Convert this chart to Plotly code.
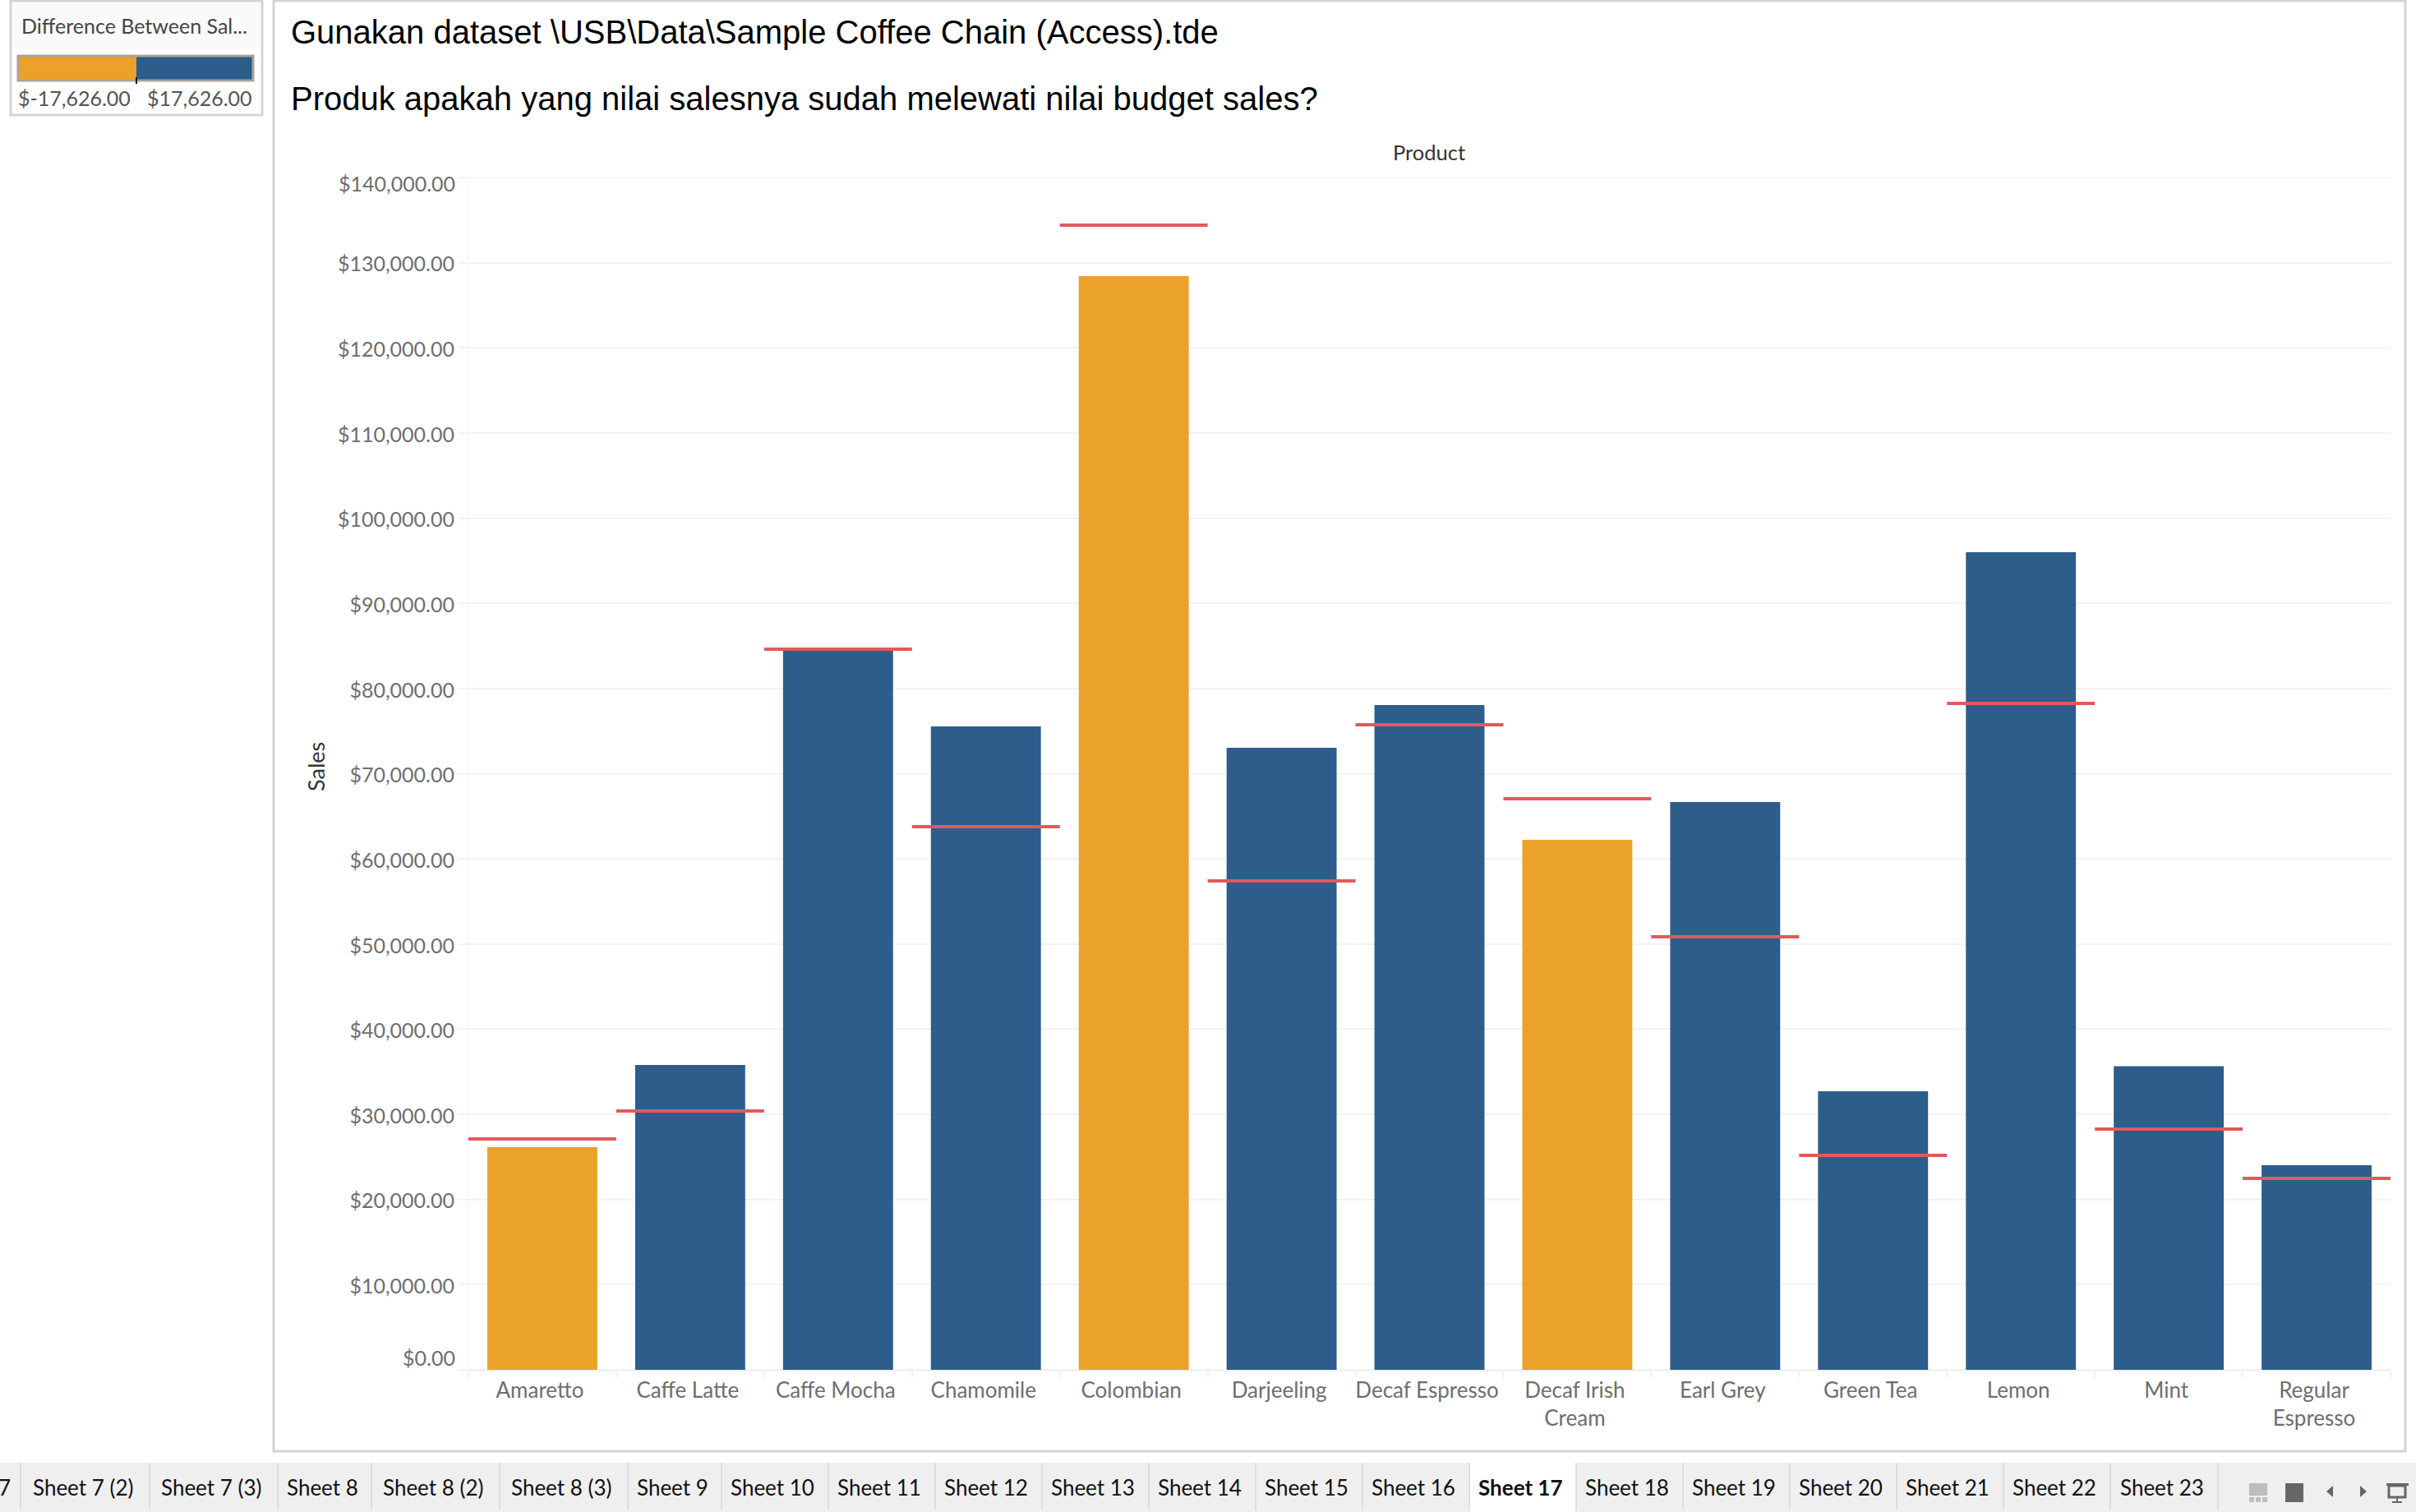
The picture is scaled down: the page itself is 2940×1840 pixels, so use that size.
import plotly.graph_objects as go

W = 2940
H = 1840

products = ["Amaretto", "Caffe Latte", "Caffe Mocha", "Chamomile", "Colombian", "Darjeeling",
            "Decaf Espresso", "Decaf Irish<br>Cream", "Earl Grey", "Green Tea", "Lemon", "Mint",
            "Regular<br>Espresso"]
sales = [26150, 35800, 84700, 75550, 128430, 73040, 78060, 62240, 66680, 32710, 96010, 35650, 24030]
budget = [27110, 30390, 84620, 63780, 134410, 57410, 75750, 67060, 50850, 25180, 78250, 28270, 22480]

y_ticks = [0, 10000, 20000, 30000, 40000, 50000, 60000, 70000, 80000, 90000, 100000, 110000,
           120000, 130000, 140000]
y_labels = ["$0.00", "$10,000.00", "$20,000.00", "$30,000.00", "$40,000.00", "$50,000.00",
            "$60,000.00", "$70,000.00", "$80,000.00", "$90,000.00", "$100,000.00", "$110,000.00",
            "$120,000.00", "$130,000.00", "$140,000.00"]

tab_names = ["Sheet 7 (2)", "Sheet 7 (3)", "Sheet 8", "Sheet 8 (2)", "Sheet 8 (3)", "Sheet 9",
             "Sheet 10", "Sheet 11", "Sheet 12", "Sheet 13", "Sheet 14", "Sheet 15", "Sheet 16",
             "Sheet 17", "Sheet 18", "Sheet 19", "Sheet 20", "Sheet 21", "Sheet 22", "Sheet 23"]
tab_edges = [25, 182, 338, 452, 608, 764, 878, 1008, 1138, 1268, 1398, 1528, 1658, 1788, 1918,
             2048, 2178, 2308, 2438, 2568, 2699]
active_tab = "Sheet 17"

BLUE = "#2C5D8B"
ORANGE = "#EAA22A"
RED = "#E2595C"
GRID = "#F2F2F2"
BORDER = "#D4D4D4"
TEXT = "#6E6E6E"
FONT = "Lato"


def px(x):
    return x / W


def py(y):
    return 1 - y / H


def rect(x0, y0, x1, y1, fill="rgba(0,0,0,0)", line=None, width=2):
    return dict(type="rect", xref="paper", yref="paper", x0=px(x0), x1=px(x1), y0=py(y0), y1=py(y1),
                fillcolor=fill, line=dict(color=line or fill, width=width if line else 0), layer="below")


def label(x, y, text, size=25, color=TEXT, anchor="left", font=FONT, bold=False, angle=0):
    if bold:
        text = "<b>" + text + "</b>"
    return dict(xref="paper", yref="paper", x=px(x), y=py(y), text=text, showarrow=False, xanchor=anchor,
                yanchor="middle", textangle=angle, font=dict(family=font, size=size, color=color))


bar_colors = [BLUE if s >= b else ORANGE for s, b in zip(sales, budget)]
positions = list(range(len(products)))

budget_x = []
budget_y = []
for i, value in zip(positions, budget):
    budget_x += [i - 0.5, i + 0.5, None]
    budget_y += [value, value, None]

fig = go.Figure()
fig.add_trace(go.Bar(x=positions, y=sales, width=0.744, marker=dict(color=bar_colors, line=dict(width=0)),
                     name="Sales"))
fig.add_trace(go.Scatter(x=budget_x, y=budget_y, mode="lines", line=dict(color=RED, width=4),
                         name="Budget Sales"))

shapes = [
    rect(333, 1, 2927, 1766, fill="white", line=BORDER, width=3),
    rect(13, 1, 319, 140, fill="white", line=BORDER, width=3),
    rect(15, 3, 317, 60, fill="#FAFAFA"),
    rect(22, 68, 166, 98, fill=ORANGE),
    rect(166, 68, 308, 98, fill=BLUE),
    rect(22, 68, 308, 98, line="#A9A498", width=3),
    rect(165, 94, 167, 102, fill="#111111"),
    rect(0, 1780, W, H, fill="#EFEFEF"),
]
for edge in tab_edges:
    shapes.append(rect(edge - 1, 1780, edge + 1, 1838, fill="#DEDEDE"))
tab_index = tab_names.index(active_tab)
shapes.append(rect(tab_edges[tab_index] + 1, 1778, tab_edges[tab_index + 1] - 1, H, fill="white"))

# plotly drops the gridline and tick at the two ends of the range
for value in [y_ticks[0], y_ticks[-1]]:
    shapes.append(dict(type="line", xref="paper", yref="y", x0=px(560), x1=px(2909), y0=value, y1=value,
                       line=dict(color=GRID, width=2), layer="below"))

# little icons at the end of the tab strip
shapes.append(rect(2737, 1805, 2759, 1820, fill="#BDBDBD"))
for x in [2737, 2745, 2753]:
    shapes.append(rect(x, 1822, x + 6, 1828, fill="#BDBDBD"))
shapes.append(rect(2781, 1805, 2803, 1828, fill="#666666"))
for path in ["M 2839 1808 L 2831 1815 L 2839 1822 Z", "M 2872 1808 L 2880 1815 L 2872 1822 Z"]:
    pts = path.split()
    out = []
    for j in range(0, len(pts) - 1, 3):
        out.append(f"{pts[j]} {px(float(pts[j + 1]))} {py(float(pts[j + 2]))}")
    shapes.append(dict(type="path", xref="paper", yref="paper", path=" ".join(out) + " Z",
                       fillcolor="#666666", line=dict(width=0), layer="below"))
shapes.append(rect(2907, 1808, 2927, 1822, line="#666666", width=3))
shapes.append(rect(2904, 1805, 2931, 1808, fill="#666666"))
shapes.append(rect(2916, 1822, 2918, 1828, fill="#666666"))
shapes.append(rect(2911, 1827, 2923, 1829, fill="#666666"))

annotations = [
    label(24, 31, "Difference Between Sal...", size=25, color="#444444"),
    label(20, 119, "$-17,626.00", size=25, color="#555555"),
    label(309, 119, "$17,626.00", size=25, color="#555555", anchor="right"),
    label(352, 39, "Gunakan dataset \\USB\\Data\\Sample Coffee Chain (Access).tde", size=40, color="black",
          font="Liberation Sans"),
    label(352, 120, "Produk apakah yang nilai salesnya sudah melewati nilai budget sales?", size=40,
          color="black", font="Liberation Sans"),
    label(1739, 185, "Product", size=25.5, color="#333333", anchor="center"),
    label(384, 933, "Sales", size=27, color="#333333", anchor="center", angle=-90),
    label(15, 1810, "7", size=26, color="#111111", anchor="right"),
]
for k, name in enumerate(tab_names):
    annotations.append(label((tab_edges[k] + tab_edges[k + 1]) / 2 - 3, 1810, name, size=26, color="#111111",
                             anchor="center", bold=name == active_tab))

# first and last y labels sit inside the axis span, the rest are on their ticks
shown_labels = list(y_labels)
shown_labels[0] = ""
shown_labels[-1] = ""
for value, text, shift in [(y_ticks[0], y_labels[0], 15), (y_ticks[-1], y_labels[-1], -7)]:
    annotations.append(dict(xref="paper", yref="y", x=px(556), y=value, yshift=shift, text=text,
                            showarrow=False, xanchor="right", yanchor="middle",
                            font=dict(family=FONT, size=25, color=TEXT)))

fig.update_layout(
    width=W,
    height=H,
    margin=dict(l=0, r=0, t=0, b=0),
    paper_bgcolor="white",
    plot_bgcolor="rgba(0,0,0,0)",
    showlegend=False,
    shapes=shapes,
    annotations=annotations,
    xaxis=dict(domain=[px(570), px(2909)], range=[-0.5, len(products) - 0.5], tickvals=positions,
               ticktext=products, ticks="", showgrid=False, zeroline=False, showline=True, linecolor=GRID,
               linewidth=2, tickfont=dict(family=FONT, size=26, color=TEXT), ticklabelstandoff=1,
               ticklabelshift=-3,
               minor=dict(tickvals=[i - 0.5 for i in positions] + [len(products) - 0.5], ticks="outside",
                          ticklen=8, tickcolor=GRID, tickwidth=2, showgrid=False)),
    yaxis=dict(domain=[py(1667), py(216)], range=[0, 140000], tickvals=y_ticks, ticktext=shown_labels,
               ticks="outside", ticklen=10, tickcolor=GRID, tickwidth=2, gridcolor=GRID, gridwidth=2,
               zeroline=False, showline=True, linecolor="#F8F8F8", linewidth=2,
               tickfont=dict(family=FONT, size=25, color=TEXT), ticklabelstandoff=0, ticklabelshift=2),
)

fig.write_html("out.html", post_script="document.body.style.margin='0';", config={"displayModeBar": False})
